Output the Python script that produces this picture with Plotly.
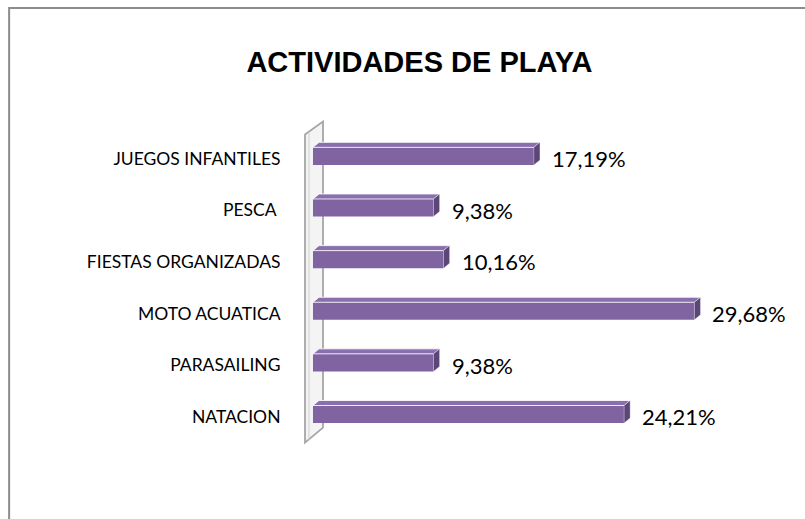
import plotly.graph_objects as go

categories = ["NATACION", "PARASAILING", "MOTO ACUATICA", "FIESTAS ORGANIZADAS", "PESCA ", "JUEGOS INFANTILES"]
values = [24.21, 9.38, 29.68, 10.16, 9.38, 17.19]
value_labels = ["24,21%", "9,38%", "29,68%", "10,16%", "9,38%", "17,19%"]
title_text = "ACTIVIDADES DE PLAYA"

idx = list(range(len(categories)))
BAR_W = 0.34
SHIFT = 0.05      # bar sits slightly above category centre
DX, DY = 0.47, 0.097  # 3-D depth in data units

fig = go.Figure()
fig.add_trace(go.Bar(
    x=values, y=idx, orientation="h", width=BAR_W, offset=-BAR_W / 2 + SHIFT,
    marker=dict(color="#8064A2", line=dict(width=0)), hoverinfo="skip",
))

shapes = []
# back wall (decoration)
shapes.append(dict(type="path", xref="x", yref="y",
                   path="M -0.62 -0.50 L -0.62 5.47 L 0.78 5.72 L 0.78 -0.21 Z",
                   fillcolor="#F4F4F4", line=dict(color="#A6A6A6", width=1.8), layer="below"))
shapes.append(dict(type="line", xref="x", yref="y", x0=-0.31, x1=-0.31, y0=-0.44, y1=5.52,
                   line=dict(color="#D0D0D0", width=1), layer="below"))
# 3-D faces for each bar, computed from the data
for i, v in zip(idx, values):
    top = i + SHIFT + BAR_W / 2
    bot = i + SHIFT - BAR_W / 2
    shapes.append(dict(type="path", xref="x", yref="y",
                       path=f"M 0 {top} L {v} {top} L {v+DX} {top+DY} L {DX} {top+DY} Z",
                       fillcolor="#8A6FAE", line=dict(color="rgba(255,255,255,0.8)", width=1)))
    shapes.append(dict(type="path", xref="x", yref="y",
                       path=f"M {v} {bot} L {v} {top} L {v+DX} {top+DY} L {v+DX} {bot+DY} Z",
                       fillcolor="#5C4678", line=dict(color="rgba(255,255,255,0.6)", width=0.5)))
# outer chart border
shapes.append(dict(type="rect", xref="paper", yref="paper", x0=-0.606, x1=1.07, y0=-0.25, y1=1.336,
                   line=dict(color="#8C8C8C", width=2), fillcolor="rgba(0,0,0,0)", layer="below"))

annotations = []
for i, v, t in zip(idx, values, value_labels):
    annotations.append(dict(x=v, y=i, text=t, xref="x", yref="y", xanchor="left", yanchor="middle",
                            xshift=16, showarrow=False,
                            font=dict(family="Lato, Open Sans, sans-serif", size=22, color="#000000")))

fig.update_layout(
    width=805, height=519,
    margin=dict(l=300, r=25, t=120, b=66),
    paper_bgcolor="white", plot_bgcolor="white",
    showlegend=False,
    title=dict(text=f"<b>{title_text}</b>", x=0.521, xanchor="center", y=0.8805, yanchor="middle",
               font=dict(family="Liberation Sans, Arial, sans-serif", size=29, color="#000000")),
    xaxis=dict(range=[-1.01, 36.34], visible=False, fixedrange=True),
    yaxis=dict(range=[-0.7, 5.75], tickmode="array", tickvals=idx, ticktext=categories,
               showgrid=False, zeroline=False, showline=False, automargin=False, fixedrange=True,
               ticks="outside", ticklen=15, tickcolor="rgba(0,0,0,0)",
               tickfont=dict(family="Lato, Open Sans, sans-serif", size=17.5, color="#000000")),
    shapes=shapes, annotations=annotations,
)

fig.write_html("out.html", config={"displayModeBar": False},
               post_script="document.body.style.margin='0';")
